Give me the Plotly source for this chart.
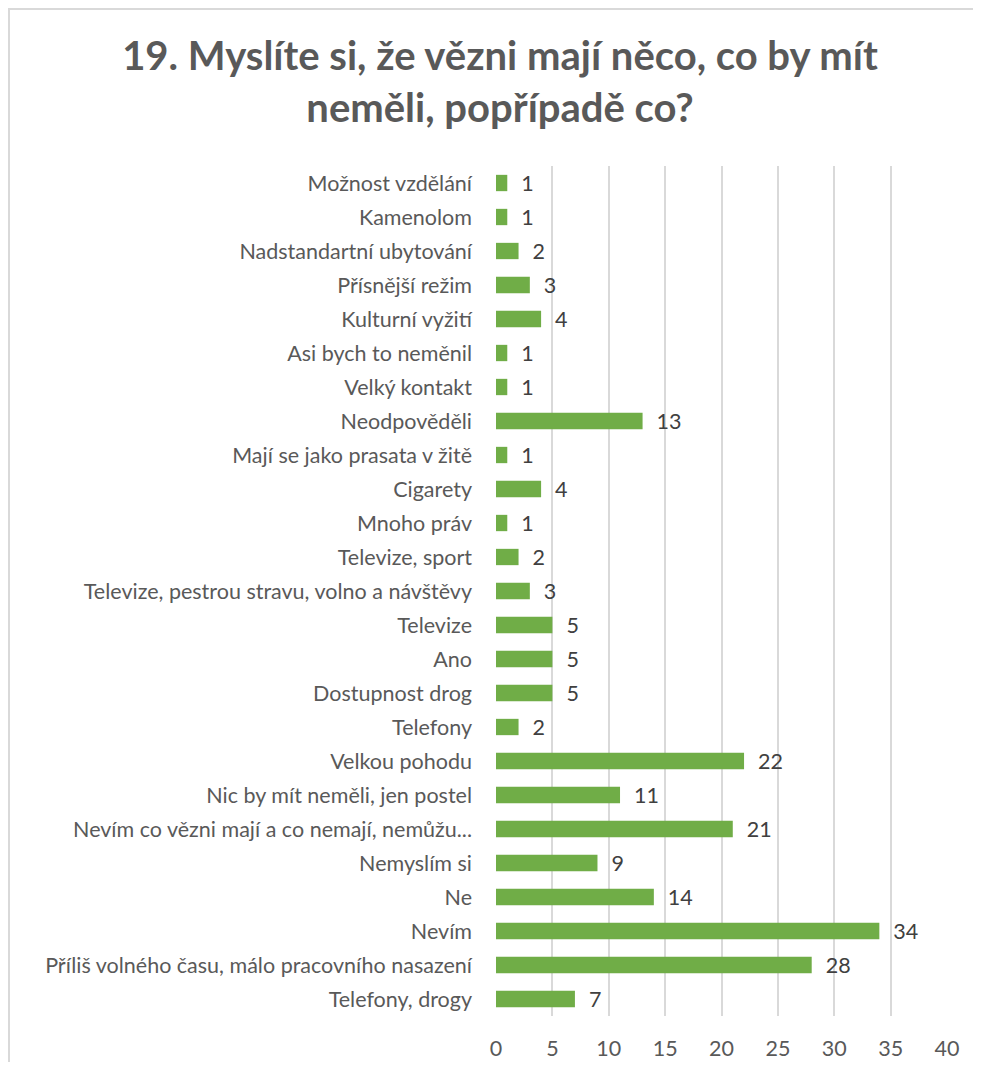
import plotly.graph_objects as go

categories = [
    "Telefony, drogy",
    "Příliš volného času, málo pracovního nasazení",
    "Nevím",
    "Ne",
    "Nemyslím si",
    "Nevím co vězni mají a co nemají, nemůžu...",
    "Nic by mít neměli, jen postel",
    "Velkou pohodu",
    "Telefony",
    "Dostupnost drog",
    "Ano",
    "Televize",
    "Televize, pestrou stravu, volno a návštěvy",
    "Televize, sport",
    "Mnoho práv",
    "Cigarety",
    "Mají se jako prasata v žitě",
    "Neodpověděli",
    "Velký kontakt",
    "Asi bych to neměnil",
    "Kulturní vyžití",
    "Přísnější režim",
    "Nadstandartní ubytování",
    "Kamenolom",
    "Možnost vzdělání",
]
values = [7, 28, 34, 14, 9, 21, 11, 22, 2, 5, 5, 5, 3, 2, 1, 4, 1, 13, 1, 1, 4, 3, 2, 1, 1]
x_ticks = [0, 5, 10, 15, 20, 25, 30, 35, 40]

title = "19. Myslíte si, že vězni mají něco, co by mít<br>neměli, popřípadě co?"

W, H = 965, 1054
L, T = 488, 158
PW, PH = 451, 850
R, B = W - L - PW, H - T - PH

fig = go.Figure()
fig.add_trace(go.Bar(
    y=categories,
    x=values,
    orientation="h",
    marker=dict(color="#70AD47", line=dict(width=0)),
    text=["  " + str(v) for v in values],
    textposition="outside",
    constraintext="none",
    textfont=dict(family="Lato", size=21.5, color="#404040"),
    cliponaxis=False,
    hoverinfo="skip",
))

fig.update_layout(
    width=W,
    height=H,
    paper_bgcolor="white",
    plot_bgcolor="white",
    margin=dict(l=L, r=R, t=T, b=B, autoexpand=False),
    bargap=0.52,
    showlegend=False,
    title=dict(
        text=title,
        font=dict(family="Lato", size=40, color="#595959", weight="bold"),
        x=492 / W,
        xref="container",
        xanchor="center",
        y=1 - 62 / H,
        yref="container",
        yanchor="middle",
    ),
    xaxis=dict(
        range=[0, 40],
        tickvals=x_ticks,
        showgrid=True,
        gridcolor="#d9d9d9",
        gridwidth=1.5,
        zeroline=False,
        showline=False,
        ticks="",
        automargin=False,
        tickfont=dict(family="Lato", size=21.5, color="#595959"),
        ticklabelstandoff=17,
    ),
    yaxis=dict(
        categoryorder="array",
        categoryarray=categories,
        showgrid=False,
        showline=False,
        ticks="",
        automargin=False,
        ticklabelstandoff=23,
        tickfont=dict(family="Lato", size=21.5, color="#595959"),
    ),
    shapes=[
        dict(type="line", xref="paper", yref="paper", x0=-(L - 0) / PW, x1=1.2,
             y0=1 + (T - 1) / PH, y1=1 + (T - 1) / PH,
             line=dict(color="#d9d9d9", width=2)),
        dict(type="line", xref="paper", yref="paper",
             x0=-(L - 1) / PW, x1=-(L - 1) / PW,
             y0=-0.2, y1=1 + (T - 1) / PH,
             line=dict(color="#d9d9d9", width=2)),
    ],
)

fig.write_html("out.html")
